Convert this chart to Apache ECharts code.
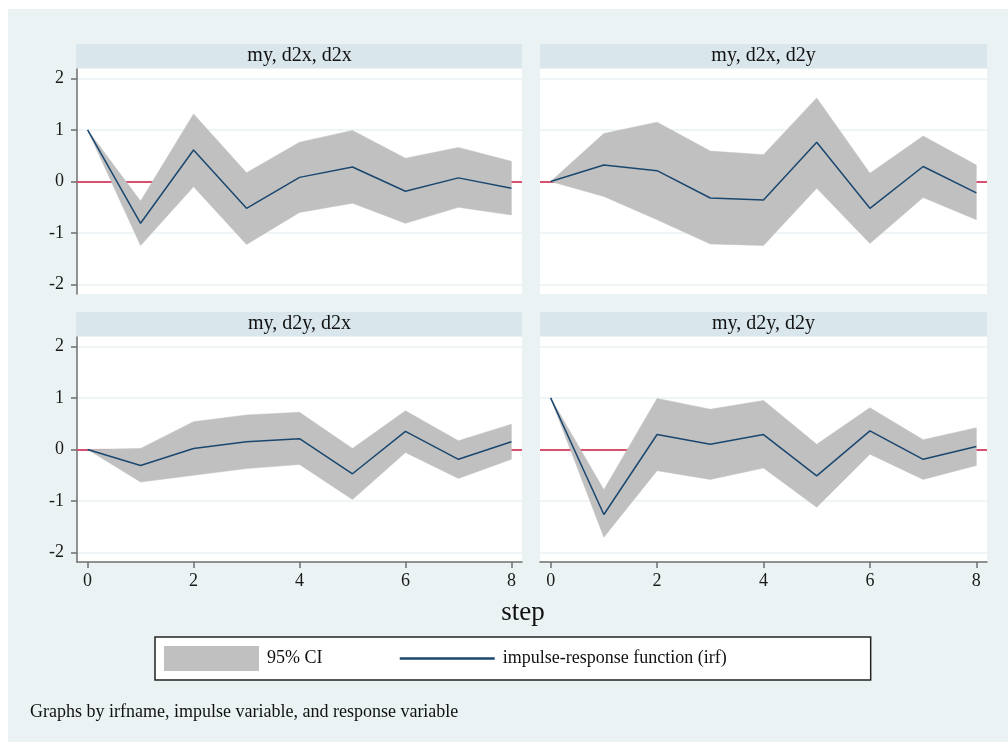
<!DOCTYPE html>
<html>
<head>
<meta charset="utf-8">
<script src="https://cdn.jsdelivr.net/npm/echarts@6/dist/echarts.min.js"></script>
<style>
html,body{margin:0;padding:0;background:#fff;}
#chart{width:1008px;height:742px;background:linear-gradient(#eaf2f3,#eaf2f3) no-repeat 8px 9px / 1000px 733px, #fff;}
</style>
</head>
<body>
<div id="chart"></div>
<script>
// ---- data ----
var steps = [0, 1, 2, 3, 4, 5, 6, 7, 8];
var xTicks = [0, 2, 4, 6, 8];
var yTicks = [-2, -1, 0, 1, 2];
var panelTitles = ['my, d2x, d2x', 'my, d2x, d2y', 'my, d2y, d2x', 'my, d2y, d2y'];

var irf1 = [1.00, -0.81, 0.61, -0.52, 0.08, 0.28, -0.19, 0.07, -0.13];
var lo1  = [1.00, -1.24, -0.10, -1.22, -0.60, -0.42, -0.81, -0.50, -0.65];
var hi1  = [1.00, -0.38, 1.31, 0.17, 0.76, 0.99, 0.45, 0.66, 0.39];

var irf2 = [0.00, 0.32, 0.21, -0.32, -0.36, 0.76, -0.52, 0.29, -0.22];
var lo2  = [0.00, -0.29, -0.74, -1.21, -1.24, -0.13, -1.20, -0.31, -0.74];
var hi2  = [0.00, 0.93, 1.15, 0.59, 0.52, 1.62, 0.16, 0.88, 0.32];

var irf3 = [0.00, -0.31, 0.02, 0.15, 0.21, -0.47, 0.35, -0.19, 0.15];
var lo3  = [0.00, -0.63, -0.50, -0.37, -0.29, -0.97, -0.06, -0.56, -0.19];
var hi3  = [0.00, 0.02, 0.54, 0.67, 0.72, 0.02, 0.75, 0.17, 0.49];

var irf4 = [1.00, -1.26, 0.29, 0.10, 0.29, -0.51, 0.36, -0.19, 0.06];
var lo4  = [1.00, -1.70, -0.41, -0.58, -0.36, -1.12, -0.09, -0.58, -0.31];
var hi4  = [1.00, -0.78, 0.99, 0.78, 0.95, 0.10, 0.81, 0.19, 0.42];

var ciName = '95% CI';
var irfName = 'impulse-response function (irf)';

// ---- build ----
var FONT = '"Liberation Serif", "DejaVu Serif", serif';
var panels = [
  {irf: irf1, lo: lo1, hi: hi1, left: 77, top: 69, width: 445, yAxis: true, xAxis: false},
  {irf: irf2, lo: lo2, hi: hi2, left: 540, top: 69, width: 447, yAxis: false, xAxis: false},
  {irf: irf3, lo: lo3, hi: hi3, left: 77, top: 337, width: 445, yAxis: true, xAxis: true},
  {irf: irf4, lo: lo4, hi: hi4, left: 540, top: 337, width: 447, yAxis: false, xAxis: true}
];
var PH = 225;

var grids = [], xAxes = [], yAxes = [], series = [], graphics = [];
var axisGray = '#6f6f6f';

function makeBandRenderer(p) {
  return function (params, api) {
    if (params.dataIndex !== 0) return null;
    var pts = [];
    var k;
    for (k = 0; k < steps.length; k++) pts.push(api.coord([steps[k], p.hi[k]]));
    for (k = steps.length - 1; k >= 0; k--) pts.push(api.coord([steps[k], p.lo[k]]));
    return {
      type: 'polygon',
      shape: {points: pts},
      style: {fill: '#c0c0c0', stroke: '#c0c0c0', lineWidth: 0.5}
    };
  };
}

panels.forEach(function (p, i) {
  grids.push({left: p.left, top: p.top, width: p.width, height: PH, show: true,
    backgroundColor: '#ffffff', borderWidth: 0, containLabel: false});
  xAxes.push({
    type: 'value', gridIndex: i, min: -0.2, max: 8.2,
    axisLine: {show: p.xAxis, onZero: false, lineStyle: {color: axisGray, width: 1.5}},
    axisTick: {show: p.xAxis, length: 6, customValues: xTicks, lineStyle: {color: axisGray, width: 1.5}},
    axisLabel: {show: p.xAxis, customValues: xTicks, margin: 10, color: '#1a1a1a',
      fontFamily: FONT, fontSize: 18},
    splitLine: {show: false}
  });
  yAxes.push({
    type: 'value', gridIndex: i, min: -2.18, max: 2.18,
    axisLine: {show: p.yAxis, onZero: false, lineStyle: {color: axisGray, width: 1.5}},
    axisTick: {show: p.yAxis, length: 6, customValues: yTicks, lineStyle: {color: axisGray, width: 1.5}},
    axisLabel: {show: p.yAxis, customValues: yTicks, margin: 13, color: '#1a1a1a',
      fontFamily: FONT, fontSize: 18},
    splitLine: {show: true, lineStyle: {color: '#eaf2f3', width: 1.5}}
  });
  series.push({
    name: ciName, type: 'custom', xAxisIndex: i, yAxisIndex: i,
    silent: true, z: 10,
    itemStyle: {color: '#c0c0c0'},
    renderItem: makeBandRenderer(p),
    data: steps.map(function (s, k) { return [s, p.lo[k], p.hi[k]]; }),
    encode: {x: 0, y: [1, 2]},
    markLine: {
      silent: true, symbol: 'none', z: 1, label: {show: false},
      lineStyle: {color: '#d9506f', width: 2, type: 'solid'},
      data: [{yAxis: 0}]
    }
  });
  series.push({
    name: irfName, type: 'line', xAxisIndex: i, yAxisIndex: i,
    symbol: 'none', z: 12,
    lineStyle: {color: '#1a476f', width: 1.5},
    itemStyle: {color: '#1a476f'},
    data: steps.map(function (s, k) { return [s, p.irf[k]]; })
  });
  // strip title
  graphics.push({
    type: 'rect', silent: true,
    shape: {x: p.left - (p.yAxis ? 1 : 0), y: p.top - 25, width: p.width + (p.yAxis ? 1 : 0), height: 24},
    style: {fill: '#d9e6eb'}
  });
  graphics.push({
    type: 'text', silent: true,
    x: p.left + p.width / 2, y: p.top - 13,
    style: {text: panelTitles[i], fill: '#111', font: '20px ' + FONT,
      textAlign: 'center', textVerticalAlign: 'middle'}
  });
});

graphics.push({
  type: 'text', silent: true, x: 523, y: 613,
  style: {text: 'step', fill: '#111', font: '27px ' + FONT, textAlign: 'center', textVerticalAlign: 'middle'}
});
graphics.push({
  type: 'text', silent: true, x: 30, y: 712,
  style: {text: 'Graphs by irfname, impulse variable, and response variable', fill: '#111',
    font: '18px ' + FONT, textAlign: 'left', textVerticalAlign: 'middle'}
});

var chart = echarts.init(document.getElementById('chart'), null, {renderer: 'canvas'});
chart.setOption({
  animation: false,
  grid: grids,
  xAxis: xAxes,
  yAxis: yAxes,
  series: series,
  legend: {
    left: 155, top: 637, orient: 'horizontal',
    itemWidth: 95, itemHeight: 25, itemGap: 76,
    padding: [9, 144, 9, 9],
    borderColor: '#222', borderWidth: 1.5, backgroundColor: '#ffffff',
    selectedMode: false,
    textStyle: {fontFamily: FONT, fontSize: 18, color: '#111', padding: [0, 0, 0, 3]},
    data: [
      {name: ciName, icon: 'rect', itemStyle: {color: '#c0c0c0'}},
      {name: irfName, itemStyle: {opacity: 0}, lineStyle: {color: '#1a476f', width: 2.5}}
    ]
  },
  graphic: graphics
});
</script>
</body>
</html>
